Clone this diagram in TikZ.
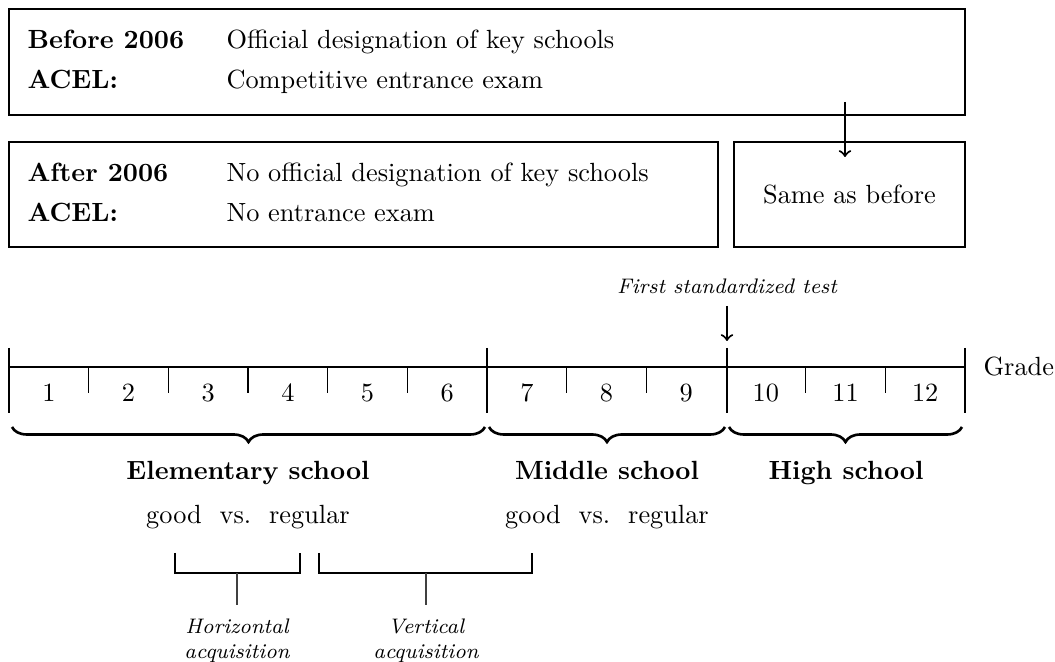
\documentclass[tikz,border=0pt]{standalone}
\usetikzlibrary{decorations.pathreplacing,fit}
\begin{document}
\begin{tikzpicture}[x=0.38pt,y=-0.38pt,
  box/.style={draw, inner sep=0pt, line width=0.4pt},
  txt/.style={inner sep=0pt, anchor=base west},
  lab/.style={inner sep=0pt, anchor=base},
  tickline/.style={line width=0.4pt},
  bigbrace/.style={decorate, decoration={brace, mirror, amplitude=5.7pt}, line width=1pt},
  brk/.style={line width=0.9pt},
  stem/.style={line width=0.4pt, black!75},
  arr/.style={->, thick},
  note/.style={font=\footnotesize\itshape, inner sep=0pt}]
\useasboundingbox (0,0) rectangle (1055,662);

% top boxes
\node[box, fit={(9,9) (965,115)}] (before) {};
\node[txt, font=\bfseries] (b1) at (27,49) {Before 2006};
\node[txt] (b2) at (226,49) {Official designation of key schools};
\node[txt, font=\bfseries] (b3) at (27,89) {ACEL:};
\node[txt] (b4) at (226,89) {Competitive entrance exam};

\node[box, fit={(9,142) (718,247)}] (after) {};
\node[txt, font=\bfseries] (a1) at (27,182) {After 2006};
\node[txt] (a2) at (226,182) {No official designation of key schools};
\node[txt, font=\bfseries] (a3) at (27,222) {ACEL:};
\node[txt] (a4) at (226,222) {No entrance exam};

\node[box, fit={(734,142) (965,247)}] (samebox) {};
\node (same) at (849.5,194.5) {Same as before};

\coordinate (arrS) at (845,102);
\coordinate (arrE) at (845,157);
\draw[arr] (arrS) -- (arrE);

% timeline
\coordinate (tl0) at (9,367);
\coordinate (tl12) at (965,367);
\draw[tickline] (tl0) -- (tl12);
\foreach \x in {9,487,727,965} {
  \draw[tickline] (\x,348) -- (\x,413);
}
\foreach \i in {1,2,3,4,5,7,8,10,11} {
  \draw[tickline] ({9+79.667*\i},367) -- ({9+79.667*\i},393);
}
\foreach \i in {1,...,12} {
  \node[inner sep=0pt] (g\i) at ({9+79.667*(\i-0.5)},393) {\i};
}
\node[anchor=west, inner sep=0pt, xshift=18*0.38pt] (grade) at (tl12) {Grade};

% first standardized test
\node[lab, note] (fst) at (727,294) {First standardized test};
\coordinate (fstS) at (727,306);
\coordinate (fstE) at (727,341);
\draw[arr] (fstS) -- (fstE);

% braces
\draw[bigbrace] (12,427) -- (485,427);
\draw[bigbrace] (489,427) -- (725,427);
\draw[bigbrace] (729,427) -- (962,427);

\node[lab, font=\bfseries] (elem) at (248,480) {Elementary school};
\node[lab, font=\bfseries] (mid) at (607,480) {Middle school};
\node[lab, font=\bfseries] (high) at (846,480) {High school};

\node[lab] (gv1) at (248,524) {good\hspace{6.8pt}vs.\hspace{6.8pt}regular};
\node[lab] (gv2) at (607,524) {good\hspace{6.8pt}vs.\hspace{6.8pt}regular};

% brackets
\draw[brk] (175,553) -- (175,573) -- (300,573) -- (300,553);
\draw[brk] (319,553) -- (319,573) -- (532,573) -- (532,553);
\coordinate (hs) at (237,573);
\coordinate (he) at (237,605);
\coordinate (vs) at (426,573);
\coordinate (ve) at (426,605);
\draw[stem] (hs) -- (he);
\draw[stem] (vs) -- (ve);

\node[note, align=center, anchor=north] (hor) at (237,618) {Horizontal\\acquisition};
\node[note, align=center, anchor=north] (ver) at (426,618) {Vertical\\acquisition};
\end{tikzpicture}
\end{document}
